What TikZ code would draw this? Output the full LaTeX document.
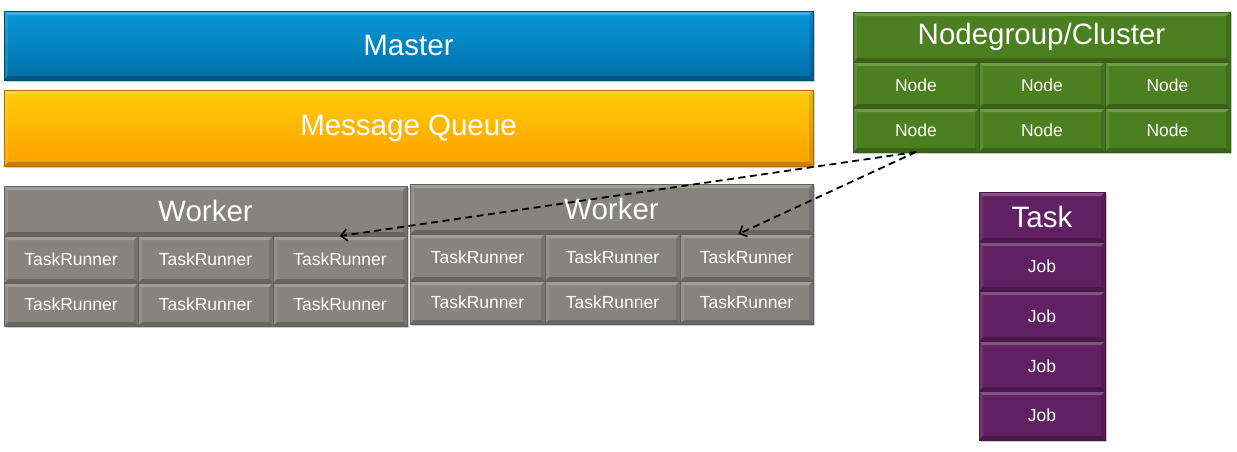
\documentclass[tikz,border=0pt]{standalone}
\usepackage{fontspec}
\setmainfont{Liberation Sans}
\usetikzlibrary{arrows.meta,shadows}
\definecolor{blueT}{HTML}{0898DC}
\definecolor{blueB}{HTML}{006EA6}
\definecolor{orT}{HTML}{FFCC06}
\definecolor{orB}{HTML}{FFA000}
\definecolor{grn}{HTML}{4B7F20}
\definecolor{gry}{HTML}{87837D}
\definecolor{prp}{HTML}{612061}
\tikzset{
  bevel/.style={path picture={
    \fill[white,opacity=0.22] (path picture bounding box.north west) -- (path picture bounding box.north east)
      -- ([xshift=-4pt,yshift=-4pt]path picture bounding box.north east) -- ([xshift=4pt,yshift=-4pt]path picture bounding box.north west) -- cycle;
    \fill[white,opacity=0.10] (path picture bounding box.north west) -- ([xshift=4pt,yshift=-4pt]path picture bounding box.north west)
      -- ([xshift=4pt,yshift=4pt]path picture bounding box.south west) -- (path picture bounding box.south west) -- cycle;
    \fill[black,opacity=0.22] (path picture bounding box.south west) -- (path picture bounding box.south east)
      -- ([xshift=-4pt,yshift=4pt]path picture bounding box.south east) -- ([xshift=4pt,yshift=4pt]path picture bounding box.south west) -- cycle;
    \fill[black,opacity=0.12] (path picture bounding box.north east) -- ([xshift=-4pt,yshift=-4pt]path picture bounding box.north east)
      -- ([xshift=-4pt,yshift=4pt]path picture bounding box.south east) -- (path picture bounding box.south east) -- cycle;
  }},
  cell/.style={rectangle, anchor=north west, inner sep=0pt, outer sep=0pt, text=white,
    draw=#1!75!black, line width=0.7pt, fill=#1, bevel},
  grp/.style={rectangle, anchor=north west, inner sep=0pt, outer sep=0pt,
    fill=#1, draw=#1!70!black, line width=0.7pt,
    drop shadow={shadow xshift=1.5pt, shadow yshift=-2pt, opacity=0.35, fill=black!60}},
  big/.style={font=\fontsize{29.5}{31}\selectfont},
  small/.style={font=\fontsize{17.5}{19}\selectfont},
  hdr/.style={cell=#1, big},
  conn/.style={draw=black, line width=1.8pt, dash pattern=on 7pt off 4.5pt,
    -{Straight Barb[length=6pt,width=12pt,line width=1.6pt]}},
}
\begin{document}
\begin{tikzpicture}[x=1pt,y=-1pt]
\useasboundingbox (0,0) rectangle (1237,451);

% Master and Message Queue
\node[grp=blueB, top color=blueT, bottom color=blueB, bevel, text=white, big,
  minimum width=809, minimum height=69] (master) at (4,11) {Master};
\node[grp=orB, top color=orT, bottom color=orB, bevel, text=white, big,
  minimum width=809, minimum height=76] (mq) at (4,90) {Message Queue};

% Nodegroup / Cluster
\node[grp=grn, minimum width=377, minimum height=140] (ng) at (853,12) {};
\node[hdr=grn, minimum width=377, minimum height=50] (nghead) at (853,12) {Nodegroup/Cluster};
\node[cell=grn, small, minimum width=126, minimum height=46] (n11) at (853,62) {Node};
\node[cell=grn, small, minimum width=126, minimum height=46] (n12) at (979,62) {Node};
\node[cell=grn, small, minimum width=125, minimum height=46] (n13) at (1105,62) {Node};
\node[cell=grn, small, minimum width=126, minimum height=44] (n21) at (853,108) {Node};
\node[cell=grn, small, minimum width=126, minimum height=44] (n22) at (979,108) {Node};
\node[cell=grn, small, minimum width=125, minimum height=44] (n23) at (1105,108) {Node};

% Worker 1
\node[grp=gry, minimum width=403, minimum height=140] (w1) at (4,186) {};
\node[hdr=gry, minimum width=403, minimum height=50] (w1head) at (4,186) {Worker};
\node[cell=gry, small, minimum width=134, minimum height=47] (w1a) at (4,236) {TaskRunner};
\node[cell=gry, small, minimum width=135, minimum height=47] (w1b) at (138,236) {TaskRunner};
\node[cell=gry, small, minimum width=134, minimum height=47] (w1c) at (273,236) {TaskRunner};
\node[cell=gry, small, minimum width=134, minimum height=43] (w1d) at (4,283) {TaskRunner};
\node[cell=gry, small, minimum width=135, minimum height=43] (w1e) at (138,283) {TaskRunner};
\node[cell=gry, small, minimum width=134, minimum height=43] (w1f) at (273,283) {TaskRunner};

% Worker 2
\node[grp=gry, minimum width=403, minimum height=140] (w2) at (410,184) {};
\node[hdr=gry, minimum width=403, minimum height=50] (w2head) at (410,184) {Worker};
\node[cell=gry, small, minimum width=135, minimum height=47] (w2a) at (410,234) {TaskRunner};
\node[cell=gry, small, minimum width=135, minimum height=47] (w2b) at (545,234) {TaskRunner};
\node[cell=gry, small, minimum width=133, minimum height=47] (w2c) at (680,234) {TaskRunner};
\node[cell=gry, small, minimum width=135, minimum height=43] (w2d) at (410,281) {TaskRunner};
\node[cell=gry, small, minimum width=135, minimum height=43] (w2e) at (545,281) {TaskRunner};
\node[cell=gry, small, minimum width=133, minimum height=43] (w2f) at (680,281) {TaskRunner};

% Task
\node[grp=prp, minimum width=126, minimum height=248] (task) at (979,192) {};
\node[hdr=prp, minimum width=126, minimum height=50] (taskhead) at (979,192) {Task};
\node[cell=prp, small, minimum width=126, minimum height=49] (j1) at (979,242) {Job};
\node[cell=prp, small, minimum width=126, minimum height=50] (j2) at (979,291) {Job};
\node[cell=prp, small, minimum width=126, minimum height=50] (j3) at (979,341) {Job};
\node[cell=prp, small, minimum width=126, minimum height=49] (j4) at (979,391) {Job};

% connectors
\draw[conn] (n21.south) -- (w1c.north);
\draw[conn] (n21.south) -- ([xshift=-8pt]w2c.north);
\end{tikzpicture}
\end{document}
